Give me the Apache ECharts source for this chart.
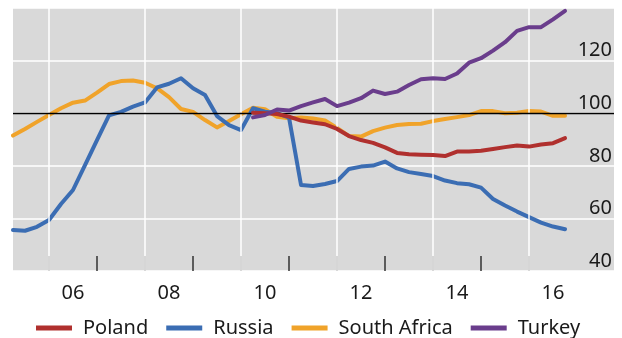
<!DOCTYPE html>
<html>
<head>
<meta charset="utf-8">
<script src="https://cdn.jsdelivr.net/npm/echarts@6/dist/echarts.min.js"></script>
<style>
  html, body { margin: 0; padding: 0; background: #ffffff; }
  #chart { width: 622px; height: 338px; }
</style>
</head>
<body>
<div id="chart"></div>
<script>
// Quarterly observations, first quarter shown is 2005 Q2
const startYear = 2005.25;
const quarterCount = 47;

const russia = [
  55.6, 55.3, 56.8, 59.4, 65.5, 70.8, 80.3, 89.8, 99.2, 100.5,
  102.5, 104.1, 109.8, 111.2, 113.3, 109.5, 106.9, 98.9, 95.5, 93.6,
  101.9, 100.6, 100.0, 98.3, 72.7, 72.3, 73.1, 74.2, 78.8, 79.7,
  80.1, 81.6, 79.0, 77.6, 76.9, 76.1, 74.4, 73.4, 73.0, 71.7,
  67.4, 64.9, 62.6, 60.5, 58.4, 56.9, 55.9
];
const southAfrica = [
  91.5, 94.0, 96.7, 99.3, 101.9, 104.0, 104.8, 107.8, 111.1, 112.2,
  112.4, 111.6, 109.5, 106.1, 101.6, 100.5, 97.4, 94.6, 97.0, 99.6,
  102.1, 101.5, 98.6, 98.1, 98.4, 98.0, 97.2, 94.4, 91.3, 91.1,
  93.2, 94.5, 95.5, 95.9, 96.0, 97.0, 97.8, 98.5, 99.3, 100.8,
  100.8, 100.0, 100.2, 100.8, 100.6, 99.0, 99.0
];
// Poland and Turkey begin in 2010 Q2 (index 20)
const poland = [
  null, null, null, null, null, null, null, null, null, null,
  null, null, null, null, null, null, null, null, null, null,
  100.2, 100.0, 99.7, 98.7, 97.2, 96.5, 95.8, 94.0, 91.3, 89.8,
  88.7, 87.0, 84.9, 84.4, 84.2, 84.1, 83.7, 85.4, 85.4, 85.7,
  86.4, 87.1, 87.7, 87.3, 88.1, 88.6, 90.5
];
const turkey = [
  null, null, null, null, null, null, null, null, null, null,
  null, null, null, null, null, null, null, null, null, null,
  98.4, 99.3, 101.4, 101.0, 102.7, 104.1, 105.4, 102.7, 104.0, 105.7,
  108.6, 107.3, 108.2, 110.7, 112.9, 113.3, 113.0, 115.1, 119.2, 120.9,
  123.8, 127.0, 131.3, 132.7, 132.7, 135.7, 138.9
];

const yearTicks = [2006, 2007, 2008, 2009, 2010, 2011, 2012, 2013, 2014, 2015, 2016];
const gridYears = [2006, 2008, 2010, 2012, 2014, 2016];
const labelYears = [2006.5, 2008.5, 2010.5, 2012.5, 2014.5, 2016.5];
const yTicks = { min: 40, max: 140, step: 20 };

const quarters = [];
for (let i = 0; i < quarterCount; i++) quarters.push(startYear + i * 0.25);
const pairs = vals => vals.map((v, i) => [quarters[i], v]);

const FONT = '"Noto Sans", "Open Sans", sans-serif';
const TEXT = '#1a1a1a';

const lineSeries = (name, vals, color, z) => ({
  name, type: 'line', data: pairs(vals), z,
  showSymbol: false, symbol: 'none', connectNulls: false,
  lineStyle: { color, width: 4, join: 'round', cap: 'round' },
  itemStyle: { color },
  emphasis: { disabled: true }
});

const chart = echarts.init(document.getElementById('chart'), null, { renderer: 'canvas' });
chart.setOption({
  animation: false,
  backgroundColor: '#ffffff',
  grid: {
    left: 13, right: 8, top: 8, bottom: 67,
    show: true, backgroundColor: '#D9D9D9', borderWidth: 0
  },
  xAxis: {
    type: 'value', min: startYear, max: 2017.77,
    axisLine: { show: false },
    splitLine: { show: false },
    axisTick: {
      show: true, inside: true, length: 15, customValues: yearTicks,
      lineStyle: { color: '#333333', width: 1.5 }
    },
    axisLabel: {
      customValues: labelYears, margin: 12,
      fontFamily: FONT, fontSize: 20, color: TEXT,
      formatter: v => String(Math.floor(v) % 100).padStart(2, '0')
    }
  },
  yAxis: {
    type: 'value', position: 'right',
    min: yTicks.min, max: yTicks.max, interval: yTicks.step,
    axisLine: { show: false },
    axisTick: { show: false },
    splitLine: { show: true, lineStyle: { color: '#ffffff', width: 1.5 } },
    axisLabel: {
      inside: true, margin: 2, verticalAlign: 'bottom',
      fontFamily: FONT, fontSize: 20, color: TEXT,
      formatter: v => (v === yTicks.max ? '' : String(v))
    }
  },
  legend: {
    data: ['Poland', 'Russia', 'South Africa', 'Turkey'],
    left: 36, top: 318, orient: 'horizontal', padding: 0,
    icon: 'rect', itemWidth: 36, itemHeight: 5, itemGap: 18,
    textStyle: { fontFamily: FONT, fontSize: 20, color: TEXT, padding: [0, 0, 0, 6] }
  },
  series: [
    {
      name: 'grid-lines', type: 'line', data: pairs(russia), z: 1,
      symbol: 'none', silent: true,
      lineStyle: { opacity: 0 },
      markLine: {
        silent: true, symbol: 'none', animation: false,
        label: { show: false },
        data: gridYears.map(y => ({ xAxis: y, lineStyle: { color: '#ffffff', width: 1.5, type: 'solid' } }))
          .concat([{ yAxis: 100, lineStyle: { color: '#000000', width: 1.3, type: 'solid' } }])
      }
    },
    lineSeries('South Africa', southAfrica, '#F0A32A', 3),
    lineSeries('Russia', russia, '#3B6DB3', 4),
    lineSeries('Poland', poland, '#B0302E', 5),
    lineSeries('Turkey', turkey, '#6A3D8C', 6)
  ]
});
</script>
</body>
</html>
